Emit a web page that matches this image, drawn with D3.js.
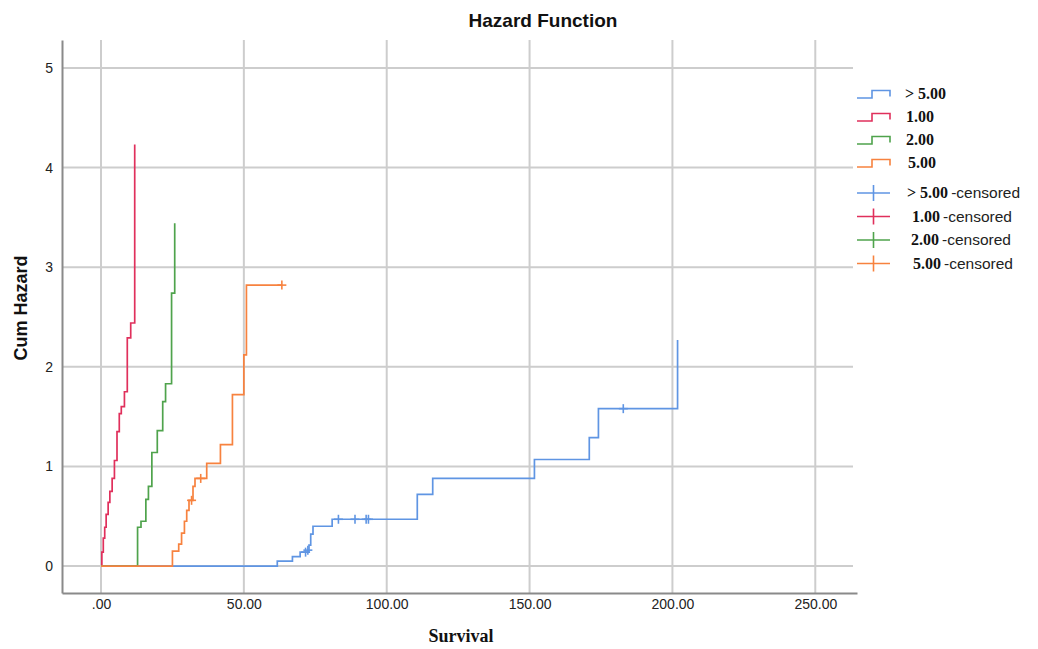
<!DOCTYPE html>
<html>
<head>
<meta charset="utf-8">
<script src="https://cdn.jsdelivr.net/npm/d3@7"></script>
<style>
  html, body { margin: 0; padding: 0; background: #fff; }
  svg { display: block; }
</style>
</head>
<body>
<svg id="chart" width="1038" height="649"></svg>
<script>
// ---- Data ----
const groupNames = ["> 5.00", "1.00", "2.00", "5.00"];
const groupColors = ["#5f95e3", "#e0305c", "#4fa34c", "#f7823f"];

// group "> 5.00"
const gt5Time = [0, 61.7, 67.0, 69.7, 72.8, 73.4, 74.2, 80.9, 110.7, 116.1, 151.7, 170.9, 174.1, 201.8];
const gt5Haz  = [0, 0.05, 0.095, 0.14, 0.21, 0.32, 0.40, 0.47, 0.72, 0.88, 1.07, 1.29, 1.58, 2.27];
const gt5CensTime = [71.6, 72.4, 83.1, 88.9, 92.8, 93.6, 182.8];
const gt5CensHaz  = [0.14, 0.16, 0.47, 0.47, 0.47, 0.47, 1.58];

// group "1.00"
const g1Time = [0, 0.3, 0.8, 1.3, 1.8, 2.5, 3.1, 3.9, 4.7, 5.6, 6.4, 7.1, 8.2, 9.2, 10.4, 11.8];
const g1Haz  = [0, 0.14, 0.28, 0.39, 0.52, 0.64, 0.75, 0.88, 1.06, 1.35, 1.53, 1.60, 1.75, 2.29, 2.44, 4.23];
const g1CensTime = [];
const g1CensHaz  = [];

// group "2.00"
const g2Time = [0, 12.8, 14.0, 15.7, 16.6, 17.8, 19.7, 21.6, 22.6, 24.7, 25.8];
const g2Haz  = [0, 0.39, 0.45, 0.67, 0.80, 1.14, 1.36, 1.65, 1.83, 2.74, 3.44];
const g2CensTime = [];
const g2CensHaz  = [];

// group "5.00"
const g5Time = [0, 25.0, 27.2, 28.2, 29.2, 30.0, 30.8, 32.2, 32.9, 37.0, 41.8, 46.0, 50.0, 50.9, 63.3];
const g5Haz  = [0, 0.15, 0.22, 0.33, 0.45, 0.56, 0.66, 0.80, 0.88, 1.03, 1.22, 1.72, 2.12, 2.82, 2.82];
const g5CensTime = [31.7, 34.9, 63.3];
const g5CensHaz  = [0.66, 0.88, 2.82];

const xTickValues = [0, 50, 100, 150, 200, 250];
const xTickLabels = [".00", "50.00", "100.00", "150.00", "200.00", "250.00"];
const yTickValues = [0, 1, 2, 3, 4, 5];
const yTickLabels = ["0", "1", "2", "3", "4", "5"];

const titleText = "Hazard Function";
const xTitle = "Survival";
const yTitle = "Cum Hazard";
const censoredSuffix = "-censored";

// ---- Build series ----
const series = [
  {name: groupNames[0], color: groupColors[0], t: gt5Time, h: gt5Haz, ct: gt5CensTime, ch: gt5CensHaz},
  {name: groupNames[1], color: groupColors[1], t: g1Time, h: g1Haz, ct: g1CensTime, ch: g1CensHaz},
  {name: groupNames[2], color: groupColors[2], t: g2Time, h: g2Haz, ct: g2CensTime, ch: g2CensHaz},
  {name: groupNames[3], color: groupColors[3], t: g5Time, h: g5Haz, ct: g5CensTime, ch: g5CensHaz}
];

const svg = d3.select("#chart");
const pLeft = 62, pRight = 857, pTop = 40, pBottom = 593;

const x = d3.scaleLinear().domain([-13.65, 264.6]).range([pLeft, pRight]);
const y = d3.scaleLinear().domain([-0.27, 5.28]).range([pBottom, pTop]);

// grid
const grid = svg.append("g");
grid.selectAll("line.v").data(xTickValues).enter().append("line")
  .attr("x1", d => x(d)).attr("x2", d => x(d))
  .attr("y1", pTop).attr("y2", pBottom)
  .attr("stroke", "#cdcdcd").attr("stroke-width", 2);
grid.selectAll("line.h").data(yTickValues).enter().append("line")
  .attr("x1", pLeft).attr("x2", 853)
  .attr("y1", d => y(d)).attr("y2", d => y(d))
  .attr("stroke", "#cdcdcd").attr("stroke-width", 2);

// axes
const xAxis = d3.axisBottom(x).tickValues(xTickValues)
  .tickFormat((d, i) => xTickLabels[i]).tickSize(0).tickPadding(6);
const gx = svg.append("g").attr("transform", `translate(0,${pBottom})`).call(xAxis);
gx.select(".domain").attr("stroke", "#8a8a8a").attr("stroke-width", 2);
gx.selectAll("text").attr("font-family", "Liberation Sans, Arial, sans-serif")
  .attr("font-size", 14).attr("fill", "#222");

const yAxis = d3.axisLeft(y).tickValues(yTickValues)
  .tickFormat((d, i) => yTickLabels[i]).tickSize(0).tickPadding(9);
const gy = svg.append("g").attr("transform", `translate(${pLeft},0)`).call(yAxis);
gy.select(".domain").attr("stroke", "#8a8a8a").attr("stroke-width", 2);
gy.selectAll("text").attr("font-family", "Liberation Sans, Arial, sans-serif")
  .attr("font-size", 14).attr("fill", "#222");

// step lines
const line = d3.line().x(d => x(d[0])).y(d => y(d[1])).curve(d3.curveStepAfter);
series.forEach(s => {
  const pts = s.t.map((t, i) => [t, s.h[i]]);
  svg.append("path").datum(pts)
    .attr("d", line)
    .attr("fill", "none")
    .attr("stroke", s.color)
    .attr("stroke-width", 1.7);
});

// censored marks
const cs = 4.5;
series.forEach(s => {
  const pts = s.ct.map((t, i) => [t, s.ch[i]]);
  const g = svg.append("g");
  g.selectAll("line.ch").data(pts).enter().append("line")
    .attr("x1", d => x(d[0]) - cs).attr("x2", d => x(d[0]) + cs)
    .attr("y1", d => y(d[1])).attr("y2", d => y(d[1]))
    .attr("stroke", s.color).attr("stroke-width", 1.6);
  g.selectAll("line.cv").data(pts).enter().append("line")
    .attr("x1", d => x(d[0])).attr("x2", d => x(d[0]))
    .attr("y1", d => y(d[1]) - cs).attr("y2", d => y(d[1]) + cs)
    .attr("stroke", s.color).attr("stroke-width", 1.6);
});

// titles
svg.append("text").attr("x", 543).attr("y", 27).attr("text-anchor", "middle")
  .attr("font-family", "Liberation Sans, Arial, sans-serif").attr("font-weight", "bold")
  .attr("font-size", 19).attr("fill", "#111").text(titleText);

svg.append("text").attr("x", 461).attr("y", 642).attr("text-anchor", "middle")
  .attr("font-family", "Liberation Serif, Times New Roman, serif").attr("font-weight", "bold")
  .attr("font-size", 18).attr("fill", "#111").text(xTitle);

svg.append("text").attr("transform", "translate(27,308) rotate(-90)").attr("text-anchor", "middle")
  .attr("font-family", "Liberation Sans, Arial, sans-serif").attr("font-weight", "bold")
  .attr("font-size", 18).attr("fill", "#111").text(yTitle);

// legend
const legend = svg.append("g");
const stepY = [98, 121, 144, 167];
const stepTextX = [905, 906, 906, 908];
series.forEach((s, i) => {
  const yl = stepY[i];
  legend.append("path")
    .attr("d", `M857,${yl} H872 V${yl - 7.5} H890 V${yl - 1.5}`)
    .attr("fill", "none").attr("stroke", s.color).attr("stroke-width", 1.6);
  legend.append("text").attr("x", stepTextX[i]).attr("y", yl + 1)
    .attr("font-family", "Liberation Serif, Times New Roman, serif").attr("font-weight", "bold")
    .attr("font-size", 16).attr("fill", "#111").text(s.name);
});
const crossY = [193, 216.5, 240, 263.5];
const crossTextX = [907, 912, 911, 913];
series.forEach((s, i) => {
  const yc = crossY[i];
  legend.append("line").attr("x1", 857).attr("x2", 890).attr("y1", yc).attr("y2", yc)
    .attr("stroke", s.color).attr("stroke-width", 1.6);
  legend.append("line").attr("x1", 873.5).attr("x2", 873.5).attr("y1", yc - 8).attr("y2", yc + 8)
    .attr("stroke", s.color).attr("stroke-width", 1.6);
  const t = legend.append("text").attr("x", crossTextX[i]).attr("y", yc + 5).attr("fill", "#111");
  t.append("tspan").attr("font-family", "Liberation Serif, Times New Roman, serif")
    .attr("font-weight", "bold").attr("font-size", 16).text(s.name);
  t.append("tspan").attr("dx", 3).attr("font-family", "Liberation Sans, Arial, sans-serif")
    .attr("font-size", 15.5).attr("fill", "#222").text(censoredSuffix);
});
</script>
</body>
</html>
